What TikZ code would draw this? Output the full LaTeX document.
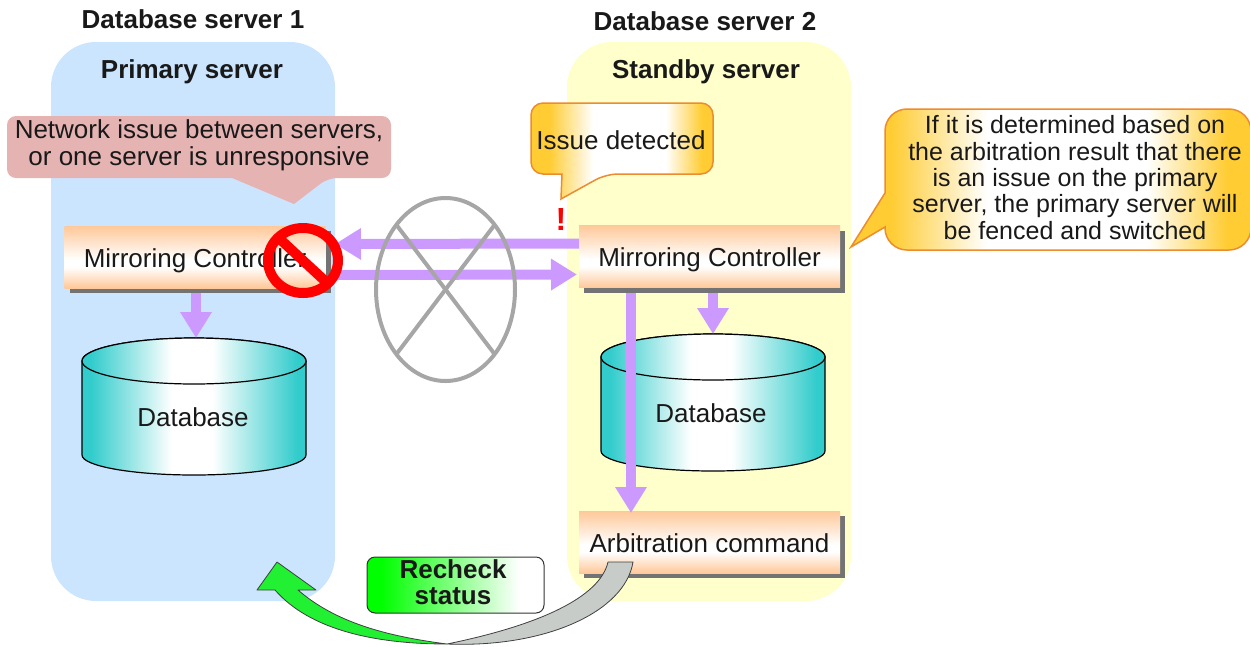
\documentclass[tikz,border=0pt]{standalone}
\usepackage{fontspec}
\setmainfont{Liberation Sans}
\usetikzlibrary{arrows.meta,shapes.geometric,shadows}
\definecolor{panelblue}{HTML}{CCE5FF}
\definecolor{panelyellow}{HTML}{FFFFCC}
\definecolor{bandorange}{HTML}{FFC899}
\definecolor{flowpurple}{HTML}{CC99FF}
\definecolor{drumteal}{HTML}{33CCCC}
\definecolor{notegold}{HTML}{FFCC33}
\definecolor{noteline}{HTML}{ED8B2F}
\definecolor{notepink}{HTML}{E6B3B3}
\definecolor{linkgray}{HTML}{A6A6A6}
\definecolor{backgray}{HTML}{C8CCC8}
\definecolor{backgreen}{HTML}{22F033}
\pgfdeclareverticalshading{bandfill}{100bp}{color(0bp)=(bandorange); color(25bp)=(bandorange); color(42bp)=(white); color(48bp)=(white); color(75bp)=(bandorange); color(100bp)=(bandorange)}
\pgfdeclarehorizontalshading{drumfill}{100bp}{color(0bp)=(drumteal); color(27bp)=(drumteal); color(45bp)=(white); color(54bp)=(white); color(73bp)=(drumteal); color(100bp)=(drumteal)}
\pgfdeclarehorizontalshading{notefill}{100bp}{color(0bp)=(notegold); color(30bp)=(notegold); color(42bp)=(white); color(62bp)=(white); color(72bp)=(notegold); color(100bp)=(notegold)}
\pgfdeclarehorizontalshading{recheckfill}{100bp}{color(0bp)=(green); color(29bp)=(green); color(68bp)=(white); color(100bp)=(white)}
\tikzset{
    base text/.style={font=\fontsize{26}{27}\selectfont,text=black!90,align=center,inner sep=0pt,outer sep=0pt},
    title text/.style={base text,font=\fontsize{26}{27}\selectfont\bfseries},
    panel/.style={rounded corners=45pt,minimum width=284pt,minimum height=559pt,outer sep=0pt},
    bandbox/.style={base text,shading=bandfill,text height=26pt,text depth=6pt,minimum width=261pt,minimum height=62pt,drop shadow={shadow xshift=5pt,shadow yshift=-5pt,fill=black!55,opacity=1}},
    drumbox/.style={minimum width=224pt,minimum height=137pt,inner sep=0pt,outer sep=0pt},
    drum/.style={draw=black,line width=1.2pt,shading=drumfill},
    flow/.style={draw=flowpurple,line width=10pt,-{Triangle[length=26pt,width=30pt]}},
    note/.style={draw=noteline,line width=1.5pt,shading=notefill},
    turn/.style={draw=black!75,line width=0.8pt,line join=round}
}
\begin{document}
\begin{tikzpicture}[x=1pt,y=-1pt]
        \useasboundingbox (0,0) rectangle (1250,646);
        \node[panel,fill=panelblue] (PanelA) at (193,321.5) {};
        \node[panel,fill=panelyellow] (PanelB) at (709,321.5) {};
        \node[title text] (TitleA) at (193,19) {Database server 1};
        \node[title text] (TitleB) at (705,21) {Database server 2};
        \node[title text] (RoleA) at (192,72) {Primary server};
        \node[title text] (RoleB) at (706,72) {Standby server};
        \foreach \n/\x/\y/\s in {DbA/82/338/193,DbB/601/334/711}{
            \draw[drum] (\x,\y+23) -- (\x,\y+117) arc[start angle=180,end angle=0,x radius=112,y radius=20]
                -- (\x+224,\y+23) arc[start angle=0,end angle=-180,x radius=112,y radius=23] -- cycle;
            \draw[drum] (\x+112,\y+23) ellipse [x radius=112,y radius=23];
            \node[drumbox] (\n) at (\x+112,\y+68.5) {};
            \node[base text] (\n Label) at (\s,\y+79) {Database};
        }
        \node[bandbox] (MirrorA) at (195,257) {Mirroring Controller};
        \node[bandbox] (MirrorB) at (709.5,256.5) {Mirroring Controller};
        \node[bandbox] (ArbCmd) at (709.5,542) {Arbitration command};
        \coordinate (ShadowB) at ([yshift=-5pt]MirrorB.south);
        \node[ellipse,minimum width=70pt,minimum height=65pt,inner sep=0pt,outer sep=0pt] (NoEntry) at (303,260.5) {};
        \draw[flow] ([yshift=13pt]MirrorB.west) -- ([yshift=16.5pt,xshift=-3pt]NoEntry.east);
        \draw[flow] ([yshift=-14.5pt,xshift=-3pt]NoEntry.east) -- ([yshift=-18pt,xshift=-2pt]MirrorB.west);
        \draw[flow] ([xshift=1pt,yshift=-5pt]MirrorA.south) -- ([xshift=1pt]MirrorA.south |- DbA.north);
        \draw[flow] (DbB.north |- ShadowB) -- (DbB.north);
        \draw[flow] ([xshift=-78.5pt,yshift=-5pt]MirrorB.south) -- ([xshift=-78.5pt,yshift=-2pt]ArbCmd.north);
        \node[ellipse,draw=linkgray,line width=4pt,minimum width=139pt,minimum height=183pt,inner sep=0pt,outer sep=0pt] (Link) at (445.5,289.5) {};
        \draw[linkgray,line width=4pt] (Link.north west) -- (Link.south east);
        \draw[linkgray,line width=4pt] (Link.north east) -- (Link.south west);
        \node[ellipse,draw=red,line width=10pt,minimum width=70pt,minimum height=65pt,inner sep=0pt,outer sep=0pt] (NoEntryTop) at (NoEntry) {};
        \draw[red,line width=10pt] (NoEntryTop.north west) -- (NoEntryTop.south east);
        \fill[notepink,rounded corners=9pt] (7,116) -- (391,116) -- (391,178) -- (328,178) [sharp corners] -- (294,204) -- (232,178) [rounded corners=9pt] -- (7,178) -- cycle;
        \node[base text] (NoteIssue) at (199,145.5) {Network issue between servers,\\or one server is unresponsive};
        \draw[note,rounded corners=12pt] (531,103) -- (713,103) -- (713,174) -- (606,174) [sharp corners] -- (561,199) -- (562,174) [rounded corners=12pt] -- (531,174) -- cycle;
        \node[base text] (NoteDetect) at (621,140) {Issue detected};
        \node[title text,text=red,font=\fontsize{32}{34}\selectfont\bfseries] (Alert) at (561,219) {!};
        \draw[note,rounded corners=22pt] (885,109) -- (1251,109) -- (1251,250) -- (885,250) [sharp corners] -- (885,227) -- (851,247) -- (885,193) [rounded corners=22pt] -- cycle;
        \node[base text,font=\fontsize{25}{26.3}\selectfont] (NoteFence) at (1075,177.5) {If it is determined based on\\the arbitration result that there\\is an issue on the primary\\server, the primary server will\\be fenced and switched};
        \coordinate (Bend) at (447,644);
        \filldraw[turn,fill=backgray] (608,562) .. controls (600,597) and (540,625) .. (Bend) .. controls (545,648) and (625,612) .. (633,562) -- cycle;
        \filldraw[turn,fill=backgreen] (Bend) .. controls (385,636) and (335,622) .. (298,590) -- (316,590) -- (277,562) -- (257,590) -- (275,590) .. controls (310,630) and (375,644) .. (Bend) -- cycle;
        \node[draw=black!80,line width=1pt,rounded corners=8pt,shading=recheckfill,minimum width=177pt,minimum height=56pt,outer sep=0pt] (RecheckBox) at (455.5,585) {};
        \node[title text,font=\fontsize{26}{26}\selectfont\bfseries] (Recheck) at (453,582) {Recheck\\status};
    \end{tikzpicture}
\end{document}
